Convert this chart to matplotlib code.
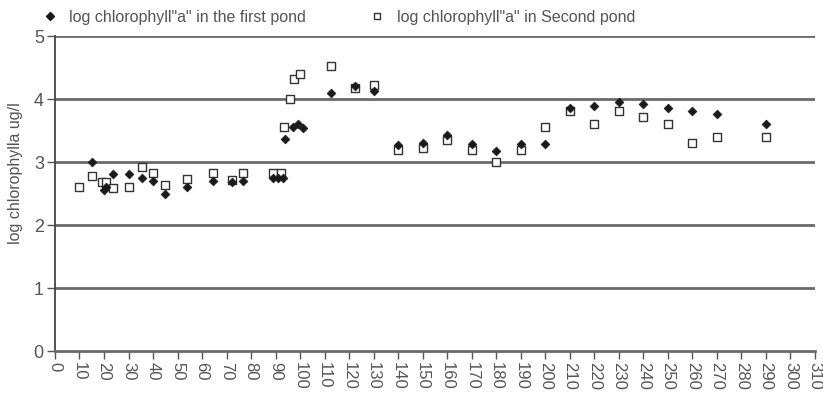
import matplotlib
matplotlib.use("Agg")
import matplotlib.pyplot as plt
from matplotlib.lines import Line2D

plt.rcParams['font.family'] = ['Liberation Sans', 'DejaVu Sans']

# Sampling day and log chlorophyll "a" (ug/l) for each pond
pond1_day = [15, 20, 21, 23.5, 30, 35.5, 40, 45, 54, 64.5, 72, 76.5, 89, 91, 93,
             94, 97, 99, 101, 112.5, 122.5, 130, 140, 150, 160, 170, 180, 190,
             200, 210, 220, 230, 240, 250, 260, 270, 290]
pond1_log_chl = [3.0, 2.56, 2.6, 2.81, 2.81, 2.75, 2.7, 2.49, 2.6, 2.7, 2.68, 2.7,
                 2.74, 2.74, 2.74, 3.36, 3.56, 3.6, 3.54, 4.1, 4.2, 4.12, 3.27,
                 3.3, 3.43, 3.29, 3.18, 3.29, 3.29, 3.85, 3.89, 3.96, 3.92, 3.86,
                 3.81, 3.76, 3.6]

pond2_day = [10, 15, 19, 21, 23.5, 30, 35.5, 40, 45, 54, 64.5, 72, 76.5, 89, 92,
             93.5, 96, 97.5, 100, 112.5, 122.5, 130, 140, 150, 160, 170, 180,
             190, 200, 210, 220, 230, 240, 250, 260, 270, 290]
pond2_log_chl = [2.6, 2.78, 2.69, 2.69, 2.59, 2.6, 2.92, 2.82, 2.63, 2.73, 2.82,
                 2.71, 2.82, 2.82, 2.82, 3.56, 4.0, 4.32, 4.4, 4.53, 4.18, 4.22,
                 3.19, 3.22, 3.35, 3.19, 3.0, 3.19, 3.56, 3.81, 3.6, 3.81, 3.72,
                 3.6, 3.3, 3.4, 3.4]

series_labels = ['log chlorophyll"a" in the first pond',
                 'log chlorophyll"a" in Second pond']
y_label = 'log chlorophylla ug/l'
x_ticks = list(range(0, 311, 10))
y_ticks = [0, 1, 2, 3, 4, 5]

text_col = '#555555'
line_col = '#6a6a6a'

fig = plt.figure(figsize=(8.23, 3.98), dpi=100)
ax = fig.add_axes([0.0668, 0.118, 0.9235, 0.7915])

ax.scatter(pond2_day, pond2_log_chl, marker='s', s=28, facecolor='white',
           edgecolor='#333333', linewidth=1.0, zorder=3)
ax.scatter(pond1_day, pond1_log_chl, marker='D', s=20, facecolor='#1a1a1a',
           edgecolor='#1a1a1a', linewidth=0.5, zorder=4)

ax.set_xlim(0, 310)
ax.set_ylim(0, 5)
ax.set_xticks(x_ticks)
ax.set_xticklabels([str(t) for t in x_ticks], rotation=-90, fontsize=12,
                   color=text_col)
ax.set_yticks(y_ticks)
ax.set_yticklabels([str(t) for t in y_ticks], fontsize=13, color=text_col)

for yv in y_ticks[1:]:
    ax.axhline(yv, color=line_col, linewidth=2.0, zorder=1)

for side in ('top', 'right'):
    ax.spines[side].set_visible(False)
ax.spines['left'].set_color('#444444')
ax.spines['bottom'].set_color(line_col)
ax.spines['left'].set_linewidth(1.3)
ax.spines['bottom'].set_linewidth(2.0)
ax.tick_params(axis='both', direction='out', length=6, width=1.0,
               color='#555555', pad=2)

ax.set_ylabel(y_label, fontsize=11.5, color=text_col)
ax.yaxis.set_label_coords(-0.042, 0.565)

handles = [
    Line2D([], [], linestyle='none', marker='D', markersize=4.5,
           markerfacecolor='#1a1a1a', markeredgecolor='#1a1a1a'),
    Line2D([], [], linestyle='none', marker='s', markersize=5,
           markerfacecolor='white', markeredgecolor='#333333'),
]
fig.legend(handles, series_labels, loc='center left',
           bbox_to_anchor=(0.033, 0.957), ncol=2, frameon=False,
           fontsize=11.5, labelcolor=text_col, columnspacing=4.0,
           handletextpad=0.7, handlelength=1.0)

fig.savefig('out.png', dpi=100)
